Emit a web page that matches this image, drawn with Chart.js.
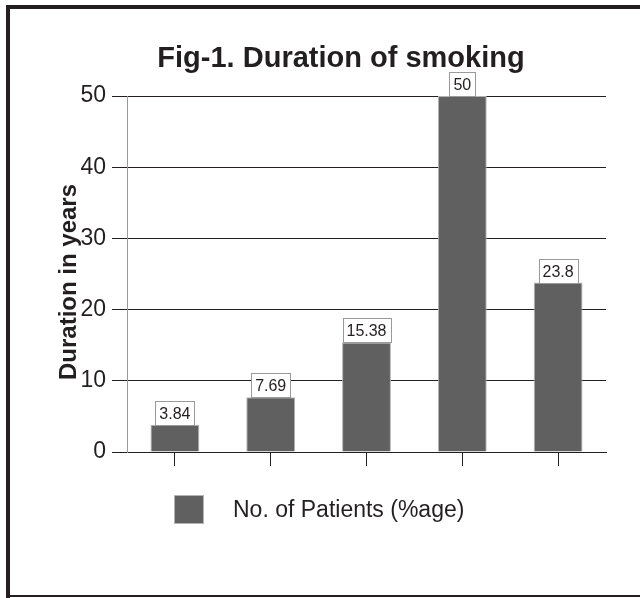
<!DOCTYPE html>
<html>
<head>
<meta charset="utf-8">
<script src="https://cdn.jsdelivr.net/npm/chart.js@4/dist/chart.umd.min.js"></script>
<style>
  html, body { margin: 0; padding: 0; background: #ffffff; }
  #wrap { width: 640px; height: 598px; }
</style>
</head>
<body>
<div id="wrap"><canvas id="chart" width="640" height="598"></canvas></div>
<script>
// Duration groups (not labelled on the axis) and the share of patients in each
const categories = ['1', '2', '3', '4', '5'];
const patientsPct = [3.84, 7.69, 15.38, 50, 23.8];
const yTicks = [0, 10, 20, 30, 40, 50];

const chartTitle = 'Fig-1. Duration of smoking';
const yAxisTitle = 'Duration in years';
const seriesName = 'No. of Patients (%age)';

const FONT = "'Liberation Sans', Arial, Helvetica, sans-serif";
const BAR_FILL = '#606060';
const BAR_EDGE = '#b4b4b4';
const INK = '#231f20';

// Page frame, title, axis title and legend
const decorations = {
  id: 'decorations',
  afterDraw(chart) {
    const ctx = chart.ctx;
    ctx.save();
    ctx.fillStyle = INK;
    ctx.fillRect(6, 5, 634, 4);     // top rule
    ctx.fillRect(6, 5, 4, 593);     // left rule
    ctx.fillRect(6, 595, 634, 2);   // bottom rule

    ctx.fillStyle = INK;
    ctx.font = 'bold 29px ' + FONT;
    ctx.textAlign = 'center';
    ctx.textBaseline = 'alphabetic';
    ctx.fillText(chartTitle, 341, 67);

    ctx.save();
    ctx.translate(76, 282);
    ctx.rotate(-Math.PI / 2);
    ctx.font = 'bold 24px ' + FONT;
    ctx.textAlign = 'center';
    ctx.textBaseline = 'alphabetic';
    ctx.fillText(yAxisTitle, 0, 0);
    ctx.restore();

    // legend
    ctx.fillStyle = BAR_FILL;
    ctx.fillRect(174, 495, 30, 29);
    ctx.strokeStyle = BAR_EDGE;
    ctx.lineWidth = 1;
    ctx.strokeRect(174.5, 495.5, 29, 28);
    ctx.fillStyle = INK;
    ctx.font = '23px ' + FONT;
    ctx.textAlign = 'left';
    ctx.textBaseline = 'middle';
    ctx.fillText(seriesName, 233, 511);
    ctx.restore();
  }
};

// Boxed value labels sitting on top of each bar
const valueBoxes = {
  id: 'valueBoxes',
  afterDatasetsDraw(chart) {
    const ctx = chart.ctx;
    const meta = chart.getDatasetMeta(0);
    const data = chart.data.datasets[0].data;
    ctx.save();
    ctx.font = '16px ' + FONT;
    meta.data.forEach((bar, i) => {
      const txt = String(data[i]);
      const w = Math.round(ctx.measureText(txt).width) + 8;
      const h = 24;
      const x = Math.round(bar.x - w / 2) + 0.5;
      const y = Math.round(bar.y - h) + 0.5;
      ctx.fillStyle = '#ffffff';
      ctx.fillRect(x, y, w, h);
      ctx.strokeStyle = '#9a9a9a';
      ctx.lineWidth = 1;
      ctx.strokeRect(x, y, w, h);
      ctx.fillStyle = INK;
      ctx.textAlign = 'center';
      ctx.textBaseline = 'middle';
      ctx.fillText(txt, bar.x, y + h / 2 + 1);
    });
    ctx.restore();
  }
};

new Chart(document.getElementById('chart'), {
  type: 'bar',
  data: {
    labels: categories,
    datasets: [{
      label: seriesName,
      data: patientsPct,
      backgroundColor: BAR_FILL,
      borderColor: BAR_EDGE,
      borderWidth: 1,
      barPercentage: 0.51,
      categoryPercentage: 1.0
    }]
  },
  options: {
    responsive: false,
    animation: false,
    devicePixelRatio: 1,
    layout: { padding: { top: 96, right: 34, left: 0, bottom: 0 } },
    plugins: {
      legend: { display: false },
      title: { display: false },
      tooltip: { enabled: false }
    },
    scales: {
      x: {
        grid: {
          drawOnChartArea: false,
          drawTicks: true,
          tickLength: 14,
          offset: false,
          color: INK,
          tickColor: INK
        },
        border: { display: true, color: INK, width: 1 },
        ticks: { display: false },
        afterFit(scale) { scale.height = 146; }
      },
      y: {
        min: 0,
        max: 50,
        afterBuildTicks(scale) { scale.ticks = yTicks.map(v => ({ value: v })); },
        grid: {
          color: INK,
          tickColor: INK,
          drawTicks: true,
          tickLength: 15,
          lineWidth: 1
        },
        border: { display: true, color: '#9a9a9a', width: 1 },
        ticks: {
          padding: 6,
          color: INK,
          font: { family: FONT, size: 23 }
        },
        afterFit(scale) { scale.width = 127; }
      }
    }
  },
  plugins: [valueBoxes, decorations]
});
</script>
</body>
</html>
